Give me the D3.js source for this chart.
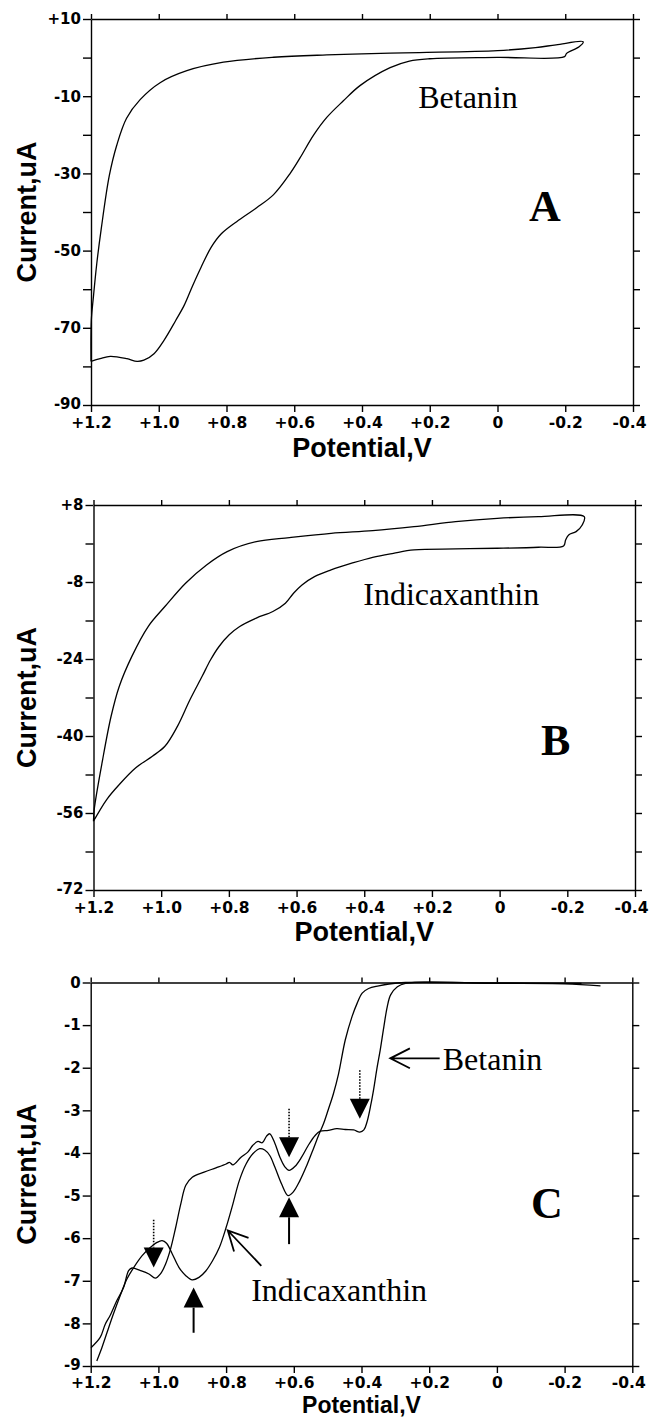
<!DOCTYPE html>
<html><head><meta charset="utf-8">
<script src="https://cdn.jsdelivr.net/npm/d3@7"></script>
<style>body{margin:0;background:#fff}</style>
</head><body>
<svg id="c" width="650" height="1418" xmlns="http://www.w3.org/2000/svg"></svg>
<script>
// ---------- tick values / labels ----------
const xTickValues = [1.2, 1.0, 0.8, 0.6, 0.4, 0.2, 0, -0.2, -0.4];
const xTickLabels = ["+1.2", "+1.0", "+0.8", "+0.6", "+0.4", "+0.2", "0", "-0.2", "-0.4"];
const aTickValues = [10, 0, -10, -20, -30, -40, -50, -60, -70, -80, -90];
const aTickLabels = ["+10", "", "-10", "", "-30", "", "-50", "", "-70", "", "-90"];
const bTickValues = [8, 0, -8, -16, -24, -32, -40, -48, -56, -64, -72];
const bTickLabels = ["+8", "", "-8", "", "-24", "", "-40", "", "-56", "", "-72"];
const cTickValues = [0, -1, -2, -3, -4, -5, -6, -7, -8, -9];
const cTickLabels = ["0", "-1", "-2", "-3", "-4", "-5", "-6", "-7", "-8", "-9"];

// ---------- Panel A: Betanin cyclic voltammogram [V, uA] ----------
const aBetanin = [
  [1.2,-78.7],[1.199,-68],[1.193,-62.1],[1.183,-53.4],[1.17,-44.5],[1.146,-30.6],[1.124,-22.7],
  [1.095,-15.7],[1.055,-10.9],[0.996,-6.5],[0.917,-3.4],[0.809,-1.2],[0.661,0.09],[0.504,0.7],
  [0.317,1.14],[0.231,1.3],[0.0,1.8],[-0.112,2.6],[-0.173,3.3],[-0.253,4.1],[-0.241,2.8],
  [-0.204,1.1],[-0.198,0.24],[0.0,0.05],[0.2,-0.3],[0.26,-0.9],[0.317,-2.6],[0.405,-7.2],
  [0.455,-11.2],[0.504,-15.5],[0.543,-20.1],[0.583,-26],[0.612,-30],[0.661,-35.5],[0.711,-38.9],
  [0.770,-42.5],[0.816,-45.7],[0.845,-49.1],[0.875,-54.3],[0.900,-59.1],[0.925,-64.2],[0.950,-68.1],
  [0.985,-73.3],[1.014,-76.7],[1.044,-78.4],[1.064,-78.7],[1.094,-78.0],[1.143,-77.4],[1.173,-78.0],
  [1.2,-78.7]
];

// ---------- Panel B: Indicaxanthin cyclic voltammogram [V, uA] ----------
const bIndicaxanthin = [
  [1.2,-57.7],[1.198,-55.3],[1.173,-44.9],[1.148,-35.9],[1.124,-29.7],[1.087,-23.5],[1.038,-17.2],
  [0.989,-13.1],[0.928,-8.25],[0.866,-4.45],[0.805,-1.68],[0.719,0.39],[0.621,1.22],[0.498,2.12],
  [0.375,2.67],[0.253,3.5],[0.130,4.54],[0.007,5.23],[-0.115,5.58],[-0.250,5.58],[-0.244,3.85],
  [-0.226,2.47],[-0.204,1.78],[-0.195,0.74],[-0.189,-0.51],[-0.115,-0.78],[0.007,-0.99],
  [0.130,-1.13],[0.253,-1.34],[0.314,-2.03],[0.375,-2.86],[0.437,-4.1],[0.498,-5.49],[0.547,-6.87],
  [0.584,-8.6],[0.609,-10.33],[0.633,-12.4],[0.670,-14.13],[0.719,-15.5],[0.768,-17.24],
  [0.799,-18.97],[0.829,-21.4],[0.854,-24.16],[0.879,-27.6],[0.915,-32.46],[0.952,-37.99],
  [0.989,-42.14],[1.026,-44.2],[1.075,-46.6],[1.124,-50.1],[1.161,-53.2],[1.2,-57.7]
];

// ---------- Panel C: differential pulse curves [V, uA] ----------
const cBetanin = [
  [1.199,-8.57],[1.172,-8.33],[1.157,-8.02],[1.143,-7.82],[1.123,-7.47],[1.103,-7.16],[1.088,-6.76],
  [1.078,-6.70],[1.053,-6.76],[1.028,-6.84],[1.009,-6.94],[0.994,-6.84],[0.979,-6.61],[0.964,-6.25],
  [0.949,-5.75],[0.934,-5.20],[0.919,-4.76],[0.900,-4.57],[0.865,-4.45],[0.830,-4.35],[0.800,-4.26],
  [0.790,-4.22],[0.780,-4.28],[0.756,-4.10],[0.736,-3.98],[0.721,-3.82],[0.706,-3.73],[0.693,-3.76],
  [0.681,-3.61],[0.671,-3.55],[0.656,-3.77],[0.641,-4.10],[0.627,-4.32],[0.614,-4.41],[0.597,-4.32],
  [0.577,-4.10],[0.557,-3.82],[0.537,-3.59],[0.522,-3.49],[0.498,-3.47],[0.473,-3.43],[0.448,-3.45],
  [0.423,-3.46],[0.405,-3.51],[0.393,-3.46],[0.384,-3.28],[0.372,-2.85],[0.364,-2.5],[0.354,-2.0],
  [0.345,-1.6],[0.334,-1.04],[0.324,-0.57],[0.314,-0.29],[0.294,-0.1],[0.270,-0.02],[0.0,-0.02],
  [-0.2,-0.03],[-0.306,-0.08]
];
const cIndicaxanthin = [
  [1.182,-8.88],[1.167,-8.57],[1.152,-8.22],[1.133,-7.78],[1.113,-7.35],[1.093,-6.96],[1.073,-6.69],
  [1.048,-6.41],[1.024,-6.22],[1.004,-6.10],[0.989,-6.06],[0.976,-6.12],[0.959,-6.37],[0.939,-6.69],
  [0.919,-6.88],[0.900,-6.98],[0.880,-6.92],[0.860,-6.77],[0.840,-6.53],[0.820,-6.22],[0.800,-5.75],
  [0.780,-5.20],[0.761,-4.65],[0.741,-4.26],[0.721,-4.02],[0.701,-3.90],[0.686,-3.93],[0.671,-4.06],
  [0.656,-4.33],[0.636,-4.73],[0.617,-5.00],[0.602,-4.92],[0.582,-4.65],[0.562,-4.30],[0.542,-3.90],
  [0.527,-3.59],[0.512,-3.31],[0.498,-2.98],[0.483,-2.61],[0.468,-2.15],[0.448,-1.35],[0.428,-0.80],
  [0.413,-0.49],[0.398,-0.25],[0.379,-0.14],[0.349,-0.08],[0.319,-0.035],[0.27,0.0],[0.0,-0.01],
  [-0.25,-0.02]
];
// arrows in panel C: [V, tail I, tip I]
const cDottedArrows = [[1.014,-5.57,-6.69],[0.614,-2.96,-4.10],[0.405,-2.06,-3.20]];
const cSolidArrows = [[0.896,-8.22,-7.16],[0.614,-6.14,-5.04]];
// open-headed label arrows: [tailV, tailI, tipV, tipI]
const cLabelArrows = [[0.169,-1.78,0.315,-1.78],[0.696,-6.65,0.795,-5.82]];
// text labels: [text, V, I(baseline), kind]
const aTexts = [["Betanin",0.234,-13.1,"name"],["A",-0.093,-42.3,"letter"]];
const bTexts = [["Indicaxanthin",0.403,-12.8,"name"],["B",-0.122,-43.9,"letter"]];
const cTexts = [["Betanin",0.160,-2.06,"name"],["Indicaxanthin",0.726,-7.48,"name"],["C",-0.101,-5.53,"letter"]];

const svg = d3.select("#c");

function panel(box, yDomain, yVals, yLabs, curves, texts, titleY, titleSize, xPad) {
  const x = d3.scaleLinear().domain([1.2, -0.4]).range([box.l, box.r]);
  const y = d3.scaleLinear().domain(yDomain).range([box.t, box.b]);
  const g = svg.append("g");
  const style = size => s => {
    s.selectAll("path,line").attr("stroke", "#000").attr("stroke-width", 1.4);
    s.selectAll("text").attr("font-family", "'DejaVu Sans', sans-serif")
      .attr("font-weight", "bold").attr("font-size", size).attr("fill", "#000");
  };

  const bottom = g.append("g").attr("transform", `translate(0,${box.b})`)
    .call(d3.axisBottom(x).tickValues(xTickValues).tickSize(7).tickSizeOuter(0).tickPadding(xPad)
      .tickFormat((d, i) => xTickLabels[i])).call(style(15.5));
  // keep the right-most label inside the page
  bottom.selectAll(".tick text").filter((d, i) => i === xTickValues.length - 1).attr("dx", -4);
  g.append("g").attr("transform", `translate(0,${box.t})`)
    .call(d3.axisTop(x).tickValues(xTickValues).tickSize(5).tickSizeOuter(0).tickFormat(() => "")).call(style(15));
  const left = g.append("g").attr("transform", `translate(${box.l},0)`)
    .call(d3.axisLeft(y).tickValues(yVals).tickSize(8).tickSizeOuter(0).tickPadding(2)
      .tickFormat((d, i) => yLabs[i])).call(style(15));
  // lift the bottom-most label a little so it clears the corner x label
  left.selectAll(".tick text").filter((d, i) => i === yVals.length - 1).attr("dy", "0.2em");
  g.append("g").attr("transform", `translate(${box.r},0)`)
    .call(d3.axisRight(y).tickValues(yVals).tickSize(7).tickSizeOuter(0).tickFormat(() => "")).call(style(15));

  const line = d3.line().x(d => x(d[0])).y(d => y(d[1])).curve(d3.curveCatmullRom.alpha(0.5));
  curves.forEach(c => g.append("path").attr("d", line(c)).attr("fill", "none")
      .attr("stroke", "#000").attr("stroke-width", 1.3).attr("stroke-linejoin", "round"));

  texts.forEach(t => g.append("text").attr("x", x(t[1])).attr("y", y(t[2])).text(t[0])
      .attr("font-family", "'Liberation Serif', 'Times New Roman', serif")
      .attr("font-weight", t[3] === "letter" ? "bold" : "normal")
      .attr("font-size", t[3] === "letter" ? 44 : 32).attr("fill", "#000"));

  g.append("text").attr("x", (box.l + box.r) / 2).attr("y", titleY).attr("text-anchor", "middle")
    .attr("font-family", "'Liberation Sans', Arial, sans-serif").attr("font-weight", "bold")
    .attr("font-size", titleSize).text("Potential,V");
  g.append("text").attr("transform", `translate(36,${(box.t + box.b) / 2}) rotate(-90)`)
    .attr("text-anchor", "middle")
    .attr("font-family", "'Liberation Sans', Arial, sans-serif").attr("font-weight", "bold")
    .attr("font-size", 27).text("Current,uA");
  return {g, x, y};
}

panel({l: 91, r: 633, t: 19, b: 405}, [10, -90], aTickValues, aTickLabels, [aBetanin], aTexts, 457, 27, 5);
panel({l: 93.5, r: 635, t: 505, b: 890}, [8, -72], bTickValues, bTickLabels, [bIndicaxanthin], bTexts, 941, 27, 5);
const pc = panel({l: 90.7, r: 632.3, t: 982.5, b: 1366}, [0, -9], cTickValues, cTickLabels,
  [cBetanin, cIndicaxanthin], cTexts, 1413, 23, 4);

// arrows in panel C
const gc = pc.g, xc = pc.x, yc = pc.y;
function triangle(px, tipY, dir) { // dir: +1 pointing down, -1 pointing up
  const h = 20, w = 10;
  return `M${px},${tipY} L${px - w},${tipY - dir * h} L${px + w},${tipY - dir * h} Z`;
}
cDottedArrows.forEach(a => {
  const px = xc(a[0]), y0 = yc(a[1]), y1 = yc(a[2]);
  gc.append("line").attr("x1", px).attr("x2", px).attr("y1", y0).attr("y2", y1 - 20)
    .attr("stroke", "#000").attr("stroke-width", 1.6).attr("stroke-dasharray", "1.5,1.5");
  gc.append("path").attr("d", triangle(px, y1, 1)).attr("fill", "#000");
});
cSolidArrows.forEach(a => {
  const px = xc(a[0]), y0 = yc(a[1]), y1 = yc(a[2]);
  gc.append("line").attr("x1", px).attr("x2", px).attr("y1", y0).attr("y2", y1 + 20)
    .attr("stroke", "#000").attr("stroke-width", 2);
  gc.append("path").attr("d", triangle(px, y1, -1)).attr("fill", "#000");
});
cLabelArrows.forEach(a => {
  const x0 = xc(a[0]), y0 = yc(a[1]), x1 = xc(a[2]), y1 = yc(a[3]);
  const ang = Math.atan2(y0 - y1, x0 - x1), L = 22, da = 0.47;
  const p = `M${x0},${y0} L${x1},${y1} M${x1 + L * Math.cos(ang + da)},${y1 + L * Math.sin(ang + da)} L${x1},${y1} L${x1 + L * Math.cos(ang - da)},${y1 + L * Math.sin(ang - da)}`;
  gc.append("path").attr("d", p).attr("fill", "none").attr("stroke", "#000").attr("stroke-width", 1.8);
});
</script>
</body></html>
